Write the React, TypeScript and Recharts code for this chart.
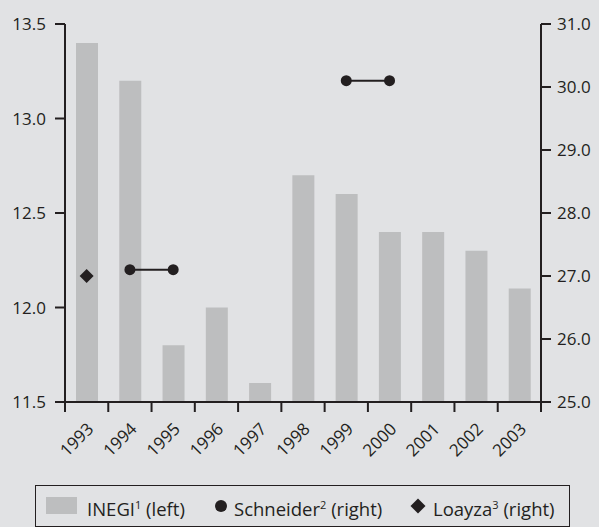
import React from 'react';
import { ComposedChart, Bar, Line, XAxis, YAxis } from 'recharts';

// years on the category axis
const years = ['1993', '1994', '1995', '1996', '1997', '1998', '1999', '2000', '2001', '2002', '2003'];
// INEGI, left axis (bars)
const inegi = [13.4, 13.2, 11.8, 12.0, 11.6, 12.7, 12.6, 12.4, 12.4, 12.3, 12.1];
// Schneider, right axis: two separate periods
const schneiderA = [null, 27.1, 27.1, null, null, null, null, null, null, null, null];
const schneiderB = [null, null, null, null, null, null, 30.1, 30.1, null, null, null];
// Loayza, right axis
const loayza = [27.0, null, null, null, null, null, null, null, null, null, null];

const leftTicks = [11.5, 12.0, 12.5, 13.0, 13.5];
const rightTicks = [25, 26, 27, 28, 29, 30, 31];

const data = years.map((year, i) => ({
  year,
  inegi: inegi[i],
  schneiderA: schneiderA[i],
  schneiderB: schneiderB[i],
  loayza: loayza[i],
}));

const INK = '#231f20';
const BG = '#e1e2e4';
const BAR = '#bdbebf';
const FONT = '"Open Sans", sans-serif';

function YearTick(props: any) {
  const { x, y, payload, index, visibleTicksCount, width } = props;
  const half = payload.offset || width / visibleTicksCount / 2;
  const last = index === visibleTicksCount - 1;
  const tx = x + 8;
  const ty = y + 28;
  return (
    <g>
      <line x1={x - half} x2={x - half} y1={y} y2={y + 10} stroke={INK} strokeWidth={2} />
      {last && <line x1={x + half} x2={x + half} y1={y} y2={y + 10} stroke={INK} strokeWidth={2} />}
      <text
        x={tx}
        y={ty}
        transform={`rotate(-45, ${tx}, ${ty})`}
        textAnchor="end"
        fontSize={17}
        fontFamily={FONT}
        fill={INK}
      >
        {payload.value}
      </text>
    </g>
  );
}

function Diamond(props: any) {
  const { cx, cy, value } = props;
  if (value == null || cx == null || cy == null) return null;
  const r = 7;
  return <polygon points={`${cx},${cy - r} ${cx + r},${cy} ${cx},${cy + r} ${cx - r},${cy}`} fill={INK} />;
}

const legendText: React.CSSProperties = { position: 'absolute', top: 7, fontSize: 18.5, lineHeight: '24px' };

export default function App() {
  return (
    <div style={{ position: 'absolute', left: 0, top: 0, width: 599, height: 527, background: BG, fontFamily: FONT }}>
      <ComposedChart
        width={599}
        height={527}
        data={data}
        margin={{ top: 24, right: 0, bottom: 65, left: 0 }}
      >
        <XAxis
          dataKey="year"
          height={60}
          axisLine={{ stroke: INK, strokeWidth: 2 }}
          tickLine={false}
          tickSize={0}
          tickMargin={0}
          interval={0}
          tick={<YearTick />}
        />
        <YAxis
          yAxisId="left"
          orientation="left"
          width={65}
          domain={[11.5, 13.5]}
          ticks={leftTicks}
          allowDataOverflow
          tickFormatter={(v: number) => v.toFixed(1)}
          axisLine={{ stroke: INK, strokeWidth: 2 }}
          tickLine={{ stroke: INK, strokeWidth: 2 }}
          tickSize={10}
          tickMargin={9}
          tick={{ fill: INK, fontSize: 17, fontFamily: FONT }}
        />
        <YAxis
          yAxisId="right"
          orientation="right"
          width={58}
          domain={[25, 31]}
          ticks={rightTicks}
          allowDataOverflow
          tickFormatter={(v: number) => v.toFixed(1)}
          axisLine={{ stroke: INK, strokeWidth: 2 }}
          tickLine={{ stroke: INK, strokeWidth: 2 }}
          tickSize={10}
          tickMargin={6}
          tick={{ fill: INK, fontSize: 17, fontFamily: FONT }}
        />
        <Bar yAxisId="left" dataKey="inegi" fill={BAR} barSize={22} isAnimationActive={false} />
        <Line
          yAxisId="right"
          dataKey="schneiderA"
          stroke={INK}
          strokeWidth={2}
          dot={{ r: 5.5, fill: INK, stroke: 'none' }}
          activeDot={false}
          connectNulls={false}
          isAnimationActive={false}
        />
        <Line
          yAxisId="right"
          dataKey="schneiderB"
          stroke={INK}
          strokeWidth={2}
          dot={{ r: 5.5, fill: INK, stroke: 'none' }}
          activeDot={false}
          connectNulls={false}
          isAnimationActive={false}
        />
        <Line
          yAxisId="right"
          dataKey="loayza"
          stroke="none"
          dot={<Diamond />}
          activeDot={false}
          isAnimationActive={false}
        />
      </ComposedChart>

      {/* legend box */}
      <div
        style={{
          position: 'absolute',
          left: 35,
          top: 485,
          width: 533,
          height: 40,
          border: `1px solid ${INK}`,
          color: INK,
          whiteSpace: 'nowrap',
        }}
      >
        <span style={{ position: 'absolute', left: 10, top: 11, width: 31, height: 17, background: BAR }} />
        <span style={{ ...legendText, left: 51 }}>INEGI<sup style={{ fontSize: 11 }}>1</sup> (left)</span>
        <svg style={{ position: 'absolute', left: 178, top: 13 }} width={14} height={14}>
          <circle cx={7} cy={7} r={6} fill={INK} />
        </svg>
        <span style={{ ...legendText, left: 198 }}>Schneider<sup style={{ fontSize: 11 }}>2</sup> (right)</span>
        <svg style={{ position: 'absolute', left: 374, top: 12 }} width={16} height={16}>
          <polygon points="8,0.5 15.5,8 8,15.5 0.5,8" fill={INK} />
        </svg>
        <span style={{ ...legendText, left: 397 }}>Loayza<sup style={{ fontSize: 11 }}>3</sup> (right)</span>
      </div>
    </div>
  );
}
